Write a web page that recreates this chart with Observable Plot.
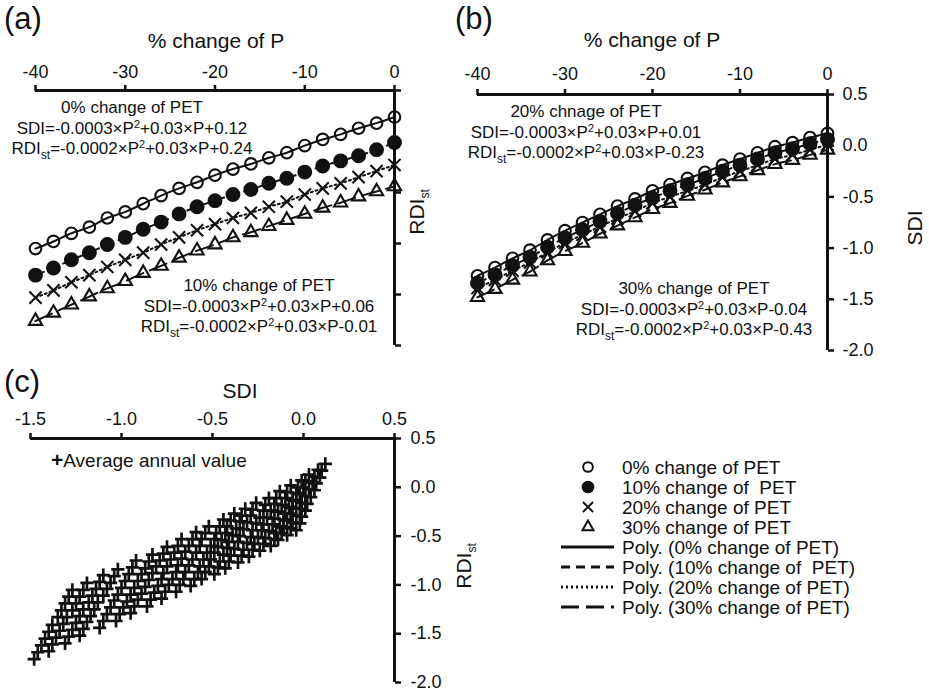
<!DOCTYPE html>
<html><head><meta charset="utf-8">
<script src="https://cdn.jsdelivr.net/npm/d3@7"></script>
<script src="https://cdn.jsdelivr.net/npm/@observablehq/plot@0.6"></script>
<style>
body{margin:0;background:#fff;}
#root{position:relative;width:929px;height:694px;overflow:hidden;font-family:"Liberation Sans",Arial,sans-serif;color:#111;}
.abs{position:absolute;white-space:nowrap;}
.panel{position:absolute;}
.ann{font-size:17px;line-height:20.5px;text-align:center;transform:translateX(-50%);}
.ttl{font-size:21px;line-height:1;transform:translate(-50%,-50%);}
.tag{font-size:31px;line-height:1;}
.rot{font-size:21px;line-height:1;transform:translate(-50%,-50%) rotate(-90deg);}
sup{font-size:11px;vertical-align:6px;line-height:0;}
sub{font-size:12px;vertical-align:-5px;line-height:0;}
</style>
</head><body>
<div id="root"></div>
<script>
// ---------- data ----------
const P = [-40,-38,-36,-34,-32,-30,-28,-26,-24,-22,-20,-18,-16,-14,-12,-10,-8,-6,-4,-2,0];
const petLabels = ["0% change of PET","10% change of  PET","20% change of PET","30% change of PET"];
// RDIst (panel a)
const rdi0  = [-1.05,-0.98,-0.90,-0.84,-0.75,-0.69,-0.61,-0.53,-0.46,-0.40,-0.33,-0.27,-0.22,-0.16,-0.11,-0.04,0.02,0.07,0.13,0.18,0.24];
const rdi10 = [-1.31,-1.24,-1.16,-1.09,-1.01,-0.94,-0.86,-0.79,-0.71,-0.64,-0.58,-0.52,-0.47,-0.41,-0.36,-0.30,-0.24,-0.19,-0.14,-0.08,-0.01];
const rdi20 = [-1.53,-1.46,-1.38,-1.31,-1.23,-1.16,-1.09,-1.01,-0.94,-0.87,-0.81,-0.75,-0.70,-0.64,-0.59,-0.52,-0.46,-0.41,-0.35,-0.29,-0.23];
const rdi30 = [-1.76,-1.68,-1.60,-1.52,-1.44,-1.37,-1.29,-1.22,-1.14,-1.07,-1.01,-0.94,-0.89,-0.83,-0.77,-0.71,-0.65,-0.60,-0.54,-0.49,-0.44];
// SDI (panel b)
const sdi0  = [-1.27,-1.19,-1.10,-1.02,-0.92,-0.83,-0.75,-0.67,-0.59,-0.52,-0.44,-0.38,-0.32,-0.26,-0.19,-0.13,-0.07,-0.01,0.03,0.08,0.12];
const sdi10 = [-1.34,-1.26,-1.17,-1.09,-0.99,-0.90,-0.82,-0.74,-0.66,-0.58,-0.51,-0.44,-0.38,-0.32,-0.25,-0.19,-0.13,-0.07,-0.03,0.02,0.06];
const sdi20 = [-1.39,-1.31,-1.22,-1.14,-1.04,-0.95,-0.87,-0.79,-0.71,-0.64,-0.56,-0.50,-0.44,-0.38,-0.31,-0.25,-0.19,-0.13,-0.09,-0.04,0.01];
const sdi30 = [-1.48,-1.40,-1.31,-1.23,-1.12,-1.03,-0.95,-0.86,-0.78,-0.70,-0.62,-0.56,-0.49,-0.43,-0.36,-0.30,-0.24,-0.18,-0.14,-0.09,-0.04];
// panel c: one row per P value, PET levels 0..30 %
const cSDI = [
 [-1.27,-1.29,-1.31,-1.33,-1.35,-1.38,-1.40,-1.42,-1.44,-1.46,-1.48],
 [-1.19,-1.21,-1.23,-1.25,-1.27,-1.30,-1.32,-1.34,-1.36,-1.38,-1.40],
 [-1.10,-1.12,-1.14,-1.16,-1.18,-1.21,-1.23,-1.25,-1.27,-1.29,-1.31],
 [-1.02,-1.04,-1.06,-1.08,-1.10,-1.13,-1.15,-1.17,-1.19,-1.21,-1.23],
 [-0.92,-0.94,-0.96,-0.98,-1.00,-1.02,-1.04,-1.06,-1.08,-1.10,-1.12],
 [-0.83,-0.85,-0.87,-0.89,-0.91,-0.93,-0.95,-0.97,-0.99,-1.01,-1.03],
 [-0.75,-0.77,-0.79,-0.81,-0.83,-0.85,-0.87,-0.89,-0.91,-0.93,-0.95],
 [-0.67,-0.69,-0.71,-0.73,-0.75,-0.77,-0.78,-0.80,-0.82,-0.84,-0.86],
 [-0.59,-0.61,-0.63,-0.65,-0.67,-0.69,-0.70,-0.72,-0.74,-0.76,-0.78],
 [-0.52,-0.54,-0.56,-0.57,-0.59,-0.61,-0.63,-0.65,-0.66,-0.68,-0.70],
 [-0.44,-0.46,-0.48,-0.49,-0.51,-0.53,-0.55,-0.57,-0.58,-0.60,-0.62],
 [-0.38,-0.40,-0.42,-0.43,-0.45,-0.47,-0.49,-0.51,-0.52,-0.54,-0.56],
 [-0.32,-0.34,-0.35,-0.37,-0.39,-0.41,-0.42,-0.44,-0.46,-0.47,-0.49],
 [-0.26,-0.28,-0.29,-0.31,-0.33,-0.35,-0.36,-0.38,-0.40,-0.41,-0.43],
 [-0.19,-0.21,-0.22,-0.24,-0.26,-0.28,-0.29,-0.31,-0.33,-0.34,-0.36],
 [-0.13,-0.15,-0.16,-0.18,-0.20,-0.22,-0.23,-0.25,-0.27,-0.28,-0.30],
 [-0.07,-0.09,-0.10,-0.12,-0.14,-0.16,-0.17,-0.19,-0.21,-0.22,-0.24],
 [-0.01,-0.03,-0.04,-0.06,-0.08,-0.10,-0.11,-0.13,-0.15,-0.16,-0.18],
 [0.03,0.01,0.00,-0.02,-0.04,-0.06,-0.07,-0.09,-0.11,-0.12,-0.14],
 [0.08,0.06,0.05,0.03,0.01,-0.01,-0.02,-0.04,-0.06,-0.07,-0.09],
 [0.12,0.10,0.09,0.07,0.06,0.04,0.02,0.01,-0.01,-0.02,-0.04]
];
const cRDI = [
 [-1.05,-1.12,-1.19,-1.26,-1.33,-1.41,-1.48,-1.55,-1.62,-1.69,-1.76],
 [-0.98,-1.05,-1.12,-1.19,-1.26,-1.33,-1.40,-1.47,-1.54,-1.61,-1.68],
 [-0.90,-0.97,-1.04,-1.11,-1.18,-1.25,-1.32,-1.39,-1.46,-1.53,-1.60],
 [-0.84,-0.91,-0.98,-1.04,-1.11,-1.18,-1.25,-1.32,-1.38,-1.45,-1.52],
 [-0.75,-0.82,-0.89,-0.96,-1.03,-1.10,-1.16,-1.23,-1.30,-1.37,-1.44],
 [-0.69,-0.76,-0.83,-0.89,-0.96,-1.03,-1.10,-1.17,-1.23,-1.30,-1.37],
 [-0.61,-0.68,-0.75,-0.81,-0.88,-0.95,-1.02,-1.09,-1.15,-1.22,-1.29],
 [-0.53,-0.60,-0.67,-0.74,-0.81,-0.88,-0.94,-1.01,-1.08,-1.15,-1.22],
 [-0.46,-0.53,-0.60,-0.66,-0.73,-0.80,-0.87,-0.94,-1.00,-1.07,-1.14],
 [-0.40,-0.47,-0.53,-0.60,-0.67,-0.74,-0.80,-0.87,-0.94,-1.00,-1.07],
 [-0.33,-0.40,-0.47,-0.53,-0.60,-0.67,-0.74,-0.81,-0.87,-0.94,-1.01],
 [-0.27,-0.34,-0.40,-0.47,-0.54,-0.61,-0.67,-0.74,-0.81,-0.87,-0.94],
 [-0.22,-0.29,-0.35,-0.42,-0.49,-0.56,-0.62,-0.69,-0.76,-0.82,-0.89],
 [-0.16,-0.23,-0.29,-0.36,-0.43,-0.50,-0.56,-0.63,-0.70,-0.76,-0.83],
 [-0.11,-0.18,-0.24,-0.31,-0.37,-0.44,-0.51,-0.57,-0.64,-0.70,-0.77],
 [-0.04,-0.11,-0.17,-0.24,-0.31,-0.38,-0.44,-0.51,-0.58,-0.64,-0.71],
 [0.02,-0.05,-0.11,-0.18,-0.25,-0.32,-0.38,-0.45,-0.52,-0.58,-0.65],
 [0.07,0.00,-0.06,-0.13,-0.20,-0.27,-0.33,-0.40,-0.47,-0.53,-0.60],
 [0.13,0.06,0.00,-0.07,-0.14,-0.21,-0.27,-0.34,-0.41,-0.47,-0.54],
 [0.18,0.11,0.05,-0.02,-0.09,-0.16,-0.22,-0.29,-0.36,-0.42,-0.49],
 [0.24,0.17,0.10,0.04,-0.03,-0.10,-0.17,-0.24,-0.30,-0.37,-0.44]
];
const xTicksP = [-40,-30,-20,-10,0];
const yTicks = [0.5,0,-0.5,-1,-1.5,-2];
const xTicksSDI = [-1.5,-1,-0.5,0,0.5];

// ---------- styles ----------
const FONT = '"Liberation Sans", Arial, sans-serif';
const INK = "#111";
const sty = [
  {symbol:"circle", r:5.8, fill:"none", dash:null},
  {symbol:"circle", r:6.4, fill:INK, dash:"9,6"},
  {symbol:"times", r:5.6, fill:"none", dash:"2,3"},
  {symbol:"triangle2", r:6.3, fill:"none", dash:"18,7"}
];

const rdiSeries = [rdi0, rdi10, rdi20, rdi30];
const sdiSeries = [sdi0, sdi10, sdi20, sdi30];
const tableA = rdiSeries.flatMap((arr,k)=>arr.map((v,i)=>({P:P[i], v, k})));
const tableB = sdiSeries.flatMap((arr,k)=>arr.map((v,i)=>({P:P[i], v, k})));
const tableC = cSDI.flatMap((row,i)=>row.map((s,j)=>({sdi:s, rdi:cRDI[i][j]})));

function seriesMarks(table){
  const m = [];
  sty.forEach((s,k)=>{
    const d = table.filter(r=>r.k===k);
    m.push(Plot.line(d,{x:"P", y:"v", stroke:INK, strokeWidth:2, strokeDasharray:s.dash||undefined, curve:"monotone-x"}));
  });
  sty.forEach((s,k)=>{
    const d = table.filter(r=>r.k===k);
    m.push(Plot.dot(d,{x:"P", y:"v", symbol:s.symbol, r:s.r, stroke:INK, strokeWidth:2.1, fill:s.fill}));
  });
  return m;
}

const root = document.getElementById("root");
function place(svg, left, top){
  const d = document.createElement("div");
  d.className = "panel"; d.style.left = left+"px"; d.style.top = top+"px";
  d.appendChild(svg); root.appendChild(d);
}
const baseStyle = {fontFamily:FONT, fontSize:"18px", color:INK, background:"transparent", overflow:"visible"};

// ---------- panel a ----------
const plotA = Plot.plot({
  width:460, height:360, marginLeft:35, marginRight:66, marginTop:90, marginBottom:15,
  style:baseStyle,
  x:{domain:[-40,0]}, y:{domain:[-2,0.5]},
  marks:[
    Plot.axisX({anchor:"top", ticks:xTicksP, tickSize:6, tickPadding:7, tickFormat:d=>String(d), label:null, fontSize:18, strokeWidth:2.5}),
    Plot.axisY({anchor:"right", ticks:yTicks, tickSize:6, tickFormat:()=>"", label:null, strokeWidth:2.5}),
    Plot.ruleY([0.5],{x1:-40, x2:0, stroke:INK, strokeWidth:3}),
    Plot.ruleX([0],{y1:-2, y2:0.5, stroke:INK, strokeWidth:3}),
    ...seriesMarks(tableA)
  ]
});
place(plotA, 0, 0);

// ---------- panel b ----------
const plotB = Plot.plot({
  width:489, height:365, marginLeft:37, marginRight:102, marginTop:94, marginBottom:15,
  style:baseStyle,
  x:{domain:[-40,0]}, y:{domain:[-2,0.5]},
  marks:[
    Plot.axisX({anchor:"top", ticks:xTicksP, tickSize:6, tickPadding:9, tickFormat:d=>String(d), label:null, fontSize:18, strokeWidth:2.5}),
    Plot.axisY({anchor:"right", ticks:yTicks, tickSize:6, tickPadding:9, tickFormat:d=>d.toFixed(1), label:null, fontSize:18, strokeWidth:2.5}),
    Plot.ruleY([0.5],{x1:-40, x2:0, stroke:INK, strokeWidth:3}),
    Plot.ruleX([0],{y1:-2, y2:0.5, stroke:INK, strokeWidth:3}),
    ...seriesMarks(tableB)
  ]
});
place(plotB, 440, 0);

// ---------- panel c ----------
const plotC = Plot.plot({
  width:520, height:354, marginLeft:30, marginRight:126, marginTop:98, marginBottom:12,
  style:baseStyle,
  x:{domain:[-1.5,0.5]}, y:{domain:[-2,0.5]},
  marks:[
    Plot.axisX({anchor:"top", ticks:xTicksSDI, tickSize:6, tickPadding:8, tickFormat:d=>d.toFixed(1), label:null, fontSize:18, strokeWidth:2.5}),
    Plot.axisY({anchor:"right", ticks:yTicks, tickSize:6, tickPadding:10, tickFormat:d=>d.toFixed(1), label:null, fontSize:18, strokeWidth:2.5}),
    Plot.ruleY([0.5],{x1:-1.5, x2:0.5, stroke:INK, strokeWidth:3}),
    Plot.ruleX([0.5],{y1:-2, y2:0.5, stroke:INK, strokeWidth:3}),
    Plot.dot(tableC,{x:"sdi", y:"rdi", symbol:"plus", r:4.3, stroke:INK, strokeWidth:2.7})
  ]
});
place(plotC, 0, 340);

// ---------- text ----------
function addText(html, cls, left, top){
  const d = document.createElement("div");
  d.className = "abs " + cls; d.style.left = left+"px"; d.style.top = top+"px";
  d.innerHTML = html; root.appendChild(d);
  return d;
}
addText("(a)","tag",4,3);
addText("(b)","tag",455,3);
addText("(c)","tag",4,366);
addText("% change of P","ttl",216,40);
addText("% change of P","ttl",652,39);
addText("SDI","ttl",240,390);
addText("RDI<sub>st</sub>","rot",416,212);
addText("SDI","rot",914,228);
addText("RDI<sub>st</sub>","rot",463,566);

const eqA1 = "0% change of PET<br>SDI=-0.0003×P<sup>2</sup>+0.03×P+0.12<br>RDI<sub>st</sub>=-0.0002×P<sup>2</sup>+0.03×P+0.24";
const eqA2 = "10% change of PET<br>SDI=-0.0003×P<sup>2</sup>+0.03×P+0.06<br>RDI<sub>st</sub>=-0.0002×P<sup>2</sup>+0.03×P-0.01";
const eqB1 = "20% chnage of PET<br>SDI=-0.0003×P<sup>2</sup>+0.03×P+0.01<br>RDI<sub>st</sub>=-0.0002×P<sup>2</sup>+0.03×P-0.23";
const eqB2 = "30% change of PET<br>SDI=-0.0003×P<sup>2</sup>+0.03×P-0.04<br>RDI<sub>st</sub>=-0.0002×P<sup>2</sup>+0.03×P-0.43";
addText(eqA1,"ann",132,98);
addText(eqA2,"ann",259,276);
addText(eqB1,"ann",586,102);
addText(eqB2,"ann",694,279);
const avg = addText('<span style="font-weight:bold;font-size:21px">+</span>Average annual value',"",51,448);
avg.style.fontSize = "19px";

// ---------- legend ----------
const legendRows = petLabels.concat(petLabels.map(l=>"Poly. ("+l+")"));
const lg = d3.create("svg").attr("width",370).attr("height",170)
  .style("position","absolute").style("left","555px").style("top","455px")
  .style("font-family",FONT).style("font-size","19px");
const symMap = {circle:d3.symbolCircle, times:d3.symbolTimes, triangle2:d3.symbolTriangle2};
legendRows.forEach((txt,i)=>{
  const y = 12 + 20*i;
  if (i < 4) {
    const s = sty[i];
    lg.append("path").attr("d", d3.symbol(symMap[s.symbol], Math.PI*s.r*s.r*0.7)())
      .attr("transform",`translate(33,${y})`).attr("fill", s.fill).attr("stroke",INK).attr("stroke-width",2);
  } else {
    const s = sty[i-4];
    lg.append("line").attr("x1",6).attr("x2",59).attr("y1",y).attr("y2",y)
      .attr("stroke",INK).attr("stroke-width",2.8).attr("stroke-dasharray", s.dash || null);
  }
  lg.append("text").attr("x",67).attr("y",y).attr("dy","0.36em").attr("fill",INK)
    .style("white-space","pre").text(txt);
});
root.appendChild(lg.node());
</script>
</body></html>
